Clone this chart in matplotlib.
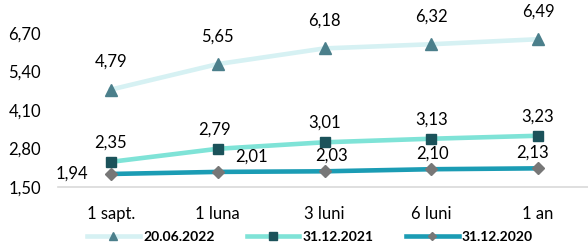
import matplotlib
matplotlib.use("Agg")
import matplotlib.pyplot as plt
from matplotlib.lines import Line2D

plt.rcParams["font.family"] = ["Lato", "DejaVu Sans"]

categories = ["1 sapt.", "1 luna", "3 luni", "6 luni", "1 an"]
yticks = [1.50, 2.80, 4.10, 5.40, 6.70]

s2022 = [4.79, 5.65, 6.18, 6.32, 6.49]
s2021 = [2.35, 2.79, 3.01, 3.13, 3.23]
s2020 = [1.94, 2.01, 2.03, 2.10, 2.13]

names = ["20.06.2022", "31.12.2021", "31.12.2020"]


def fmt(v):
    return f"{v:.2f}".replace(".", ",")


fig = plt.figure(figsize=(5.88, 2.42), dpi=100)
ax = fig.add_axes([57.6 / 588, 55 / 242, 533.8 / 588, 154 / 242])

x = list(range(len(categories)))

styles = [
    (s2022, "#d6f1f3", "^", "#4b7f8b", 8),
    (s2021, "#7fe3d7", "s", "#1b525a", 7.5),
    (s2020, "#1b9cb4", "D", "#777777", 6),
]
handles = []
for (vals, lc, mk, mc, ms), name in zip(styles, names):
    ax.plot(x, vals, color=lc, linewidth=3.3, zorder=2, clip_on=False)
    ax.plot(x, vals, linestyle="none", marker=mk, markersize=ms,
            color=mc, zorder=3, clip_on=False)
    handles.append(Line2D([0], [0], color=lc, linewidth=3.3, marker=mk,
                          markersize=ms * 0.7, markerfacecolor=mc,
                          markeredgecolor=mc))

fs = 12

# data labels
for i, v in enumerate(s2022):
    ax.annotate(fmt(v), (i, v), xytext=(0, 20), textcoords="offset points",
                ha="center", va="center", fontsize=fs)
for i, v in enumerate(s2021):
    ax.annotate(fmt(v), (i, v), xytext=(-2 if i == 1 else 0, 14),
                textcoords="offset points", ha="center", va="center",
                fontsize=fs)
offsets_2020 = [(-28, 0), (24, 11), (5, 11), (1, 11), (-4, 11)]
for i, v in enumerate(s2020):
    ax.annotate(fmt(v), (i, v), xytext=offsets_2020[i],
                textcoords="offset points", ha="center", va="center",
                fontsize=fs)

ax.set_xlim(-0.5, 4.5)
ax.set_ylim(1.5, 6.7)
ax.set_yticks(yticks)
ax.set_yticklabels([fmt(t) for t in yticks], fontsize=fs)
ax.set_xticks(x)
ax.set_xticklabels(categories, fontsize=fs)
ax.tick_params(axis="both", length=0)
ax.tick_params(axis="y", pad=12)
ax.tick_params(axis="x", pad=14)
for side in ["top", "right", "left"]:
    ax.spines[side].set_visible(False)
ax.spines["bottom"].set_color("#d9d9d9")
ax.spines["bottom"].set_linewidth(1.2)

fig.legend(handles, names, loc="center", bbox_to_anchor=(310 / 588, 1 - 237 / 242),
           ncol=3, frameon=False, handlelength=3.8, columnspacing=2.3,
           handletextpad=0.25, prop={"weight": "bold", "size": 10})

fig.savefig("out.png", dpi=100)
